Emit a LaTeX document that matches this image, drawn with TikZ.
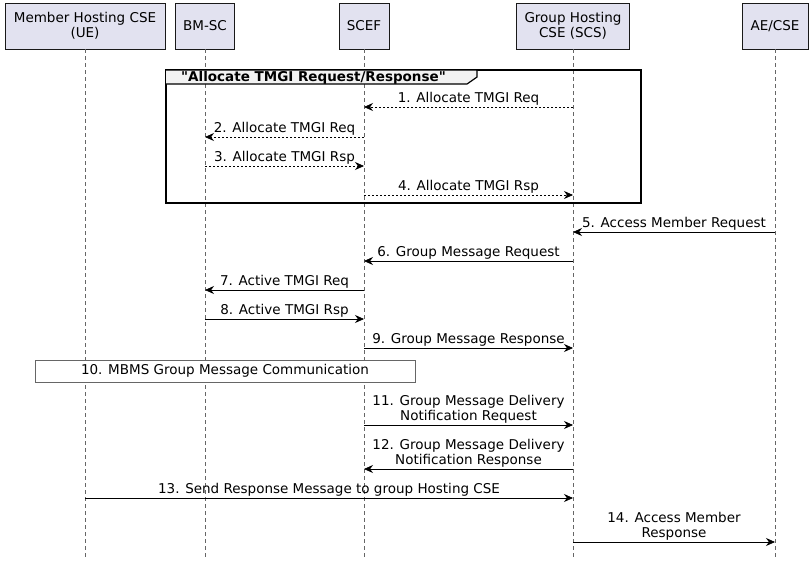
\documentclass[tikz,border=0pt]{standalone}
\usepackage{fontspec}
\setmainfont{DejaVu Sans}[Ligatures=TeXOff]
\usetikzlibrary{arrows.meta}
\definecolor{hfill}{HTML}{E2E2F0}
\begin{document}
\begin{tikzpicture}[x=1pt,y=-1pt,font=\fontsize{13.5}{15}\selectfont,
 hdr/.style={draw=black!90,fill=hfill,line width=0.5pt,align=center,inner sep=3pt,minimum height=46pt},
 life/.style={dashed,dash pattern=on 4pt off 3pt,draw=black!60,line width=0.5pt},
 msg/.style={-{Stealth[length=9pt,width=8pt]},line width=0.7pt},
 rmsg/.style={msg,dashed,dash pattern=on 2pt off 2pt},
 lbl/.style={above=0pt,align=center,inner sep=1pt}]
\useasboundingbox (0,0) rectangle (812,566);
\node[hdr,minimum width=160pt] (ue) at (85,26) {Member Hosting CSE\\(UE)};
\node[hdr,minimum width=59pt] (bm) at (205,26) {BM-SC};
\node[hdr,minimum width=50pt] (scef) at (364,26) {SCEF};
\node[hdr,minimum width=113pt] (scs) at (573,26) {Group Hosting\\CSE (SCS)};
\node[hdr,minimum width=66pt] (ae) at (775,26) {AE/CSE};
\foreach \n in {ue,bm,scef,scs,ae}{\draw[life] (\n.south) -- (\n |- 0,560);}
% group frame
\draw[line width=1.2pt] (166,70) rectangle (641,203);
\node[anchor=north west,inner sep=1pt,font=\fontsize{13.5}{15}\selectfont\bfseries] (gt) at (180,70) {"Allocate TMGI Request/Response"};
\draw[line width=1.2pt,fill=black!5] (166,70) -- ([xshift=30pt]gt.north east) -- ++(0,7) -- ++(-10,7) -- (166,84);
\node[anchor=north west,inner sep=1pt,font=\fontsize{13.5}{15}\selectfont\bfseries] at (180,70) {"Allocate TMGI Request/Response"};
\draw[rmsg] (scs |- 0,107) -- node[lbl]{1. Allocate TMGI Req} (scef |- 0,107);
\draw[rmsg] (scef |- 0,137) -- node[lbl]{2. Allocate TMGI Req} (bm |- 0,137);
\draw[rmsg] (bm |- 0,166) -- node[lbl]{3. Allocate TMGI Rsp} (scef |- 0,166);
\draw[rmsg] (scef |- 0,195) -- node[lbl]{4. Allocate TMGI Rsp} (scs |- 0,195);
\draw[msg] (ae |- 0,232) -- node[lbl]{5. Access Member Request} (scs |- 0,232);
\draw[msg] (scs |- 0,261) -- node[lbl]{6. Group Message Request} (scef |- 0,261);
\draw[msg] (scef |- 0,290) -- node[lbl]{7. Active TMGI Req} (bm |- 0,290);
\draw[msg] (bm |- 0,319) -- node[lbl]{8. Active TMGI Rsp} (scef |- 0,319);
\draw[msg] (scef |- 0,348) -- node[lbl]{9. Group Message Response} (scs |- 0,348);
\node[draw=black!60,fill=white,minimum width=380pt,minimum height=22pt,inner sep=0pt] (mb) at (225,371) {10. MBMS Group Message Communication};
\draw[msg] (scef |- 0,425) -- node[lbl]{11. Group Message Delivery\\Notification Request} (scs |- 0,425);
\draw[msg] (scs |- 0,469) -- node[lbl]{12. Group Message Delivery\\Notification Response} (scef |- 0,469);
\draw[msg] (ue |- 0,498) -- node[lbl]{13. Send Response Message to group Hosting CSE} (scs |- 0,498);
\draw[msg] (scs |- 0,542) -- node[lbl]{14. Access Member\\Response} (ae |- 0,542);
\end{tikzpicture}
\end{document}
